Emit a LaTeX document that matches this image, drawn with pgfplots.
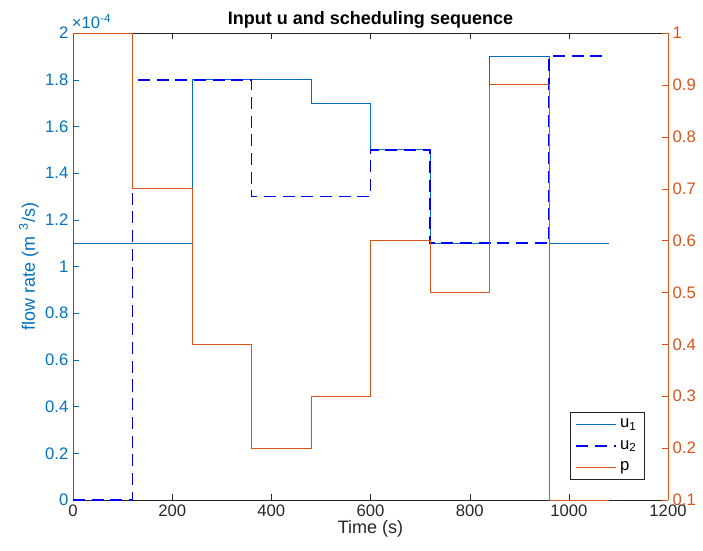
\documentclass[border=0pt]{standalone}
\usepackage{pgfplots}
\pgfplotsset{compat=1.18}
\usepackage{fontspec}
\setmainfont{Liberation Sans}
\definecolor{mblue}{RGB}{0,114,189}
\definecolor{morange}{RGB}{217,83,25}
\definecolor{mgray}{RGB}{38,38,38}
\definecolor{pureblue}{RGB}{0,0,255}
\begin{document}
\begin{tikzpicture}
\path[use as bounding box] (-54.75pt,-37.5pt) rectangle (472.5pt,375pt);
\begin{axis}[
  scale only axis, width=446.25pt, height=350.25pt,
  at={(0,0)}, anchor=south west,
  xmin=0, xmax=1200, ymin=0, ymax=2,
  clip mode=individual,
  axis y line*=left,
  xtick={0,200,...,1200},
  ytick={0,0.2,...,2},
  yticklabels={0,0.2,0.4,0.6,0.8,1,1.2,1.4,1.6,1.8,2},
  tick align=inside, major tick length=4.5pt,
  xtick pos=both,
  /pgf/number format/assume math mode=true,
  /pgf/number format/1000 sep={},
  tick label style={font=\fontsize{12.5}{14}\selectfont},
  xticklabel style={color=mgray},
  yticklabel style={color=mblue},
  x axis line style={color=mgray, line width=0.5pt},
  y axis line style={color=mblue, line width=0.5pt},
  xtick style={color=mgray},
  ytick style={color=mblue},
  xlabel={Time (s)},
  xlabel style={font=\fontsize{13.5}{15}\selectfont, color=mgray, yshift=4pt},
  ylabel={flow rate (m\,\,\textsuperscript{3}/s)},
  ylabel style={font=\fontsize{13.5}{15}\selectfont, color=mblue, yshift=-2pt},
  title={\bfseries Input u and scheduling sequence},
  title style={font=\fontsize{13.5}{15}\selectfont, color=black, yshift=-6pt},
]
\addplot[const plot, color=mblue, line width=0.6pt] coordinates {
  (0,1.1) (240,1.8) (480,1.7) (600,1.5) (720,1.1) (840,1.9) (960,1.1) (1080,1.1)
};
\addplot[const plot, color=pureblue, line width=1.4pt, dash pattern=on 9pt off 5pt] coordinates {
  (0,0) (120,1.8) (360,1.3) (600,1.5) (720,1.1) (960,1.9) (1080,1.9)
};
\node[anchor=south west, color=mblue, font=\fontsize{12.5}{14}\selectfont, inner sep=0pt] at (rel axis cs:0,1) [yshift=3pt, xshift=-1pt] {×10\textsuperscript{-4}};
\end{axis}
\begin{axis}[
  scale only axis, width=446.25pt, height=350.25pt,
  at={(0,0)}, anchor=south west,
  xmin=0, xmax=1200, ymin=0.1, ymax=1,
  axis y line*=right, axis x line=none,
  ytick={0.1,0.2,...,1.0},
  yticklabels={0.1,0.2,0.3,0.4,0.5,0.6,0.7,0.8,0.9,1},
  tick align=inside, major tick length=4.5pt,
  /pgf/number format/assume math mode=true,
  tick label style={font=\fontsize{12.5}{14}\selectfont},
  yticklabel style={color=morange},
  y axis line style={color=morange, line width=0.5pt},
  ytick style={color=morange},
  legend style={at={(0.961,0.043)}, anchor=south east, draw=mgray, line width=0.5pt,
    font=\fontsize{12.5}{14}\selectfont, inner xsep=4pt, inner ysep=3pt, row sep=4pt,
    /tikz/every even column/.append style={column sep=2pt}},
  legend image code/.code={\draw[mark repeat=2,mark phase=2,#1] plot coordinates {(0pt,0pt)(15pt,0pt)(30pt,0pt)};},
  legend cell align=left,
]
\addlegendimage{color=mblue, line width=0.7pt}
\addlegendentry{u\textsubscript{1}}
\addlegendimage{color=pureblue, line width=1.4pt, dash pattern=on 9pt off 5pt}
\addlegendentry{u\textsubscript{2}}
\addplot[const plot, color=morange, line width=0.6pt] coordinates {
  (0,1) (120,0.7) (240,0.4) (360,0.2) (480,0.3) (600,0.6) (720,0.5) (840,0.9) (960,0.1) (1080,0.1)
};
\addlegendentry{p}
\end{axis}
\end{tikzpicture}
\end{document}
